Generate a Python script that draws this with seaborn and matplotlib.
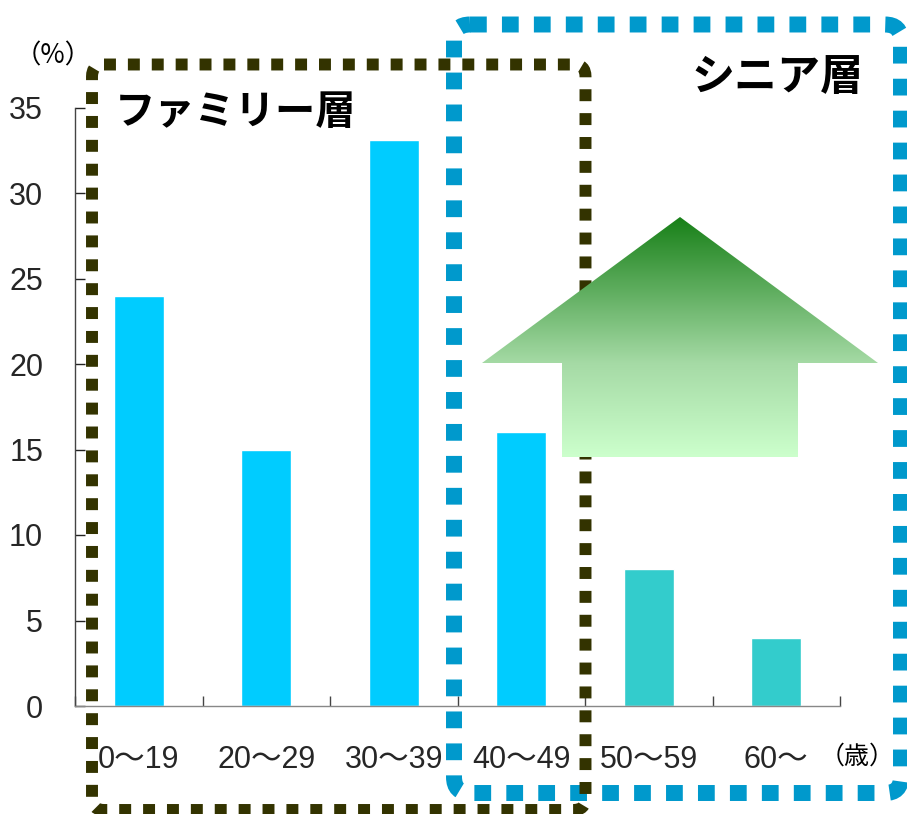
import numpy as np
import pandas as pd
import matplotlib
matplotlib.use("Agg")
import matplotlib.pyplot as plt
from matplotlib.patches import FancyBboxPatch, Polygon
import seaborn as sns

# Age-band distribution (%)
age_groups = ["0～19", "20～29", "30～39", "40～49", "50～59", "60～"]
shares = [24.0, 15.0, 33.1, 16.0, 8.0, 4.0]
bar_colors = ["#00CCFF", "#00CCFF", "#00CCFF", "#00CCFF", "#33CCCC", "#33CCCC"]
y_ticks = [0, 5, 10, 15, 20, 25, 30, 35]

sns.set_theme(style="white")
plt.rcParams["font.family"] = ["Liberation Sans", "Noto Sans CJK JP", "DejaVu Sans"]

W, H = 907, 814
fig = plt.figure(figsize=(W / 100, H / 100), dpi=100)
ax = fig.add_axes([75 / W, 1 - 706 / H, (840 - 75) / W, (706 - 107.5) / H])

df = pd.DataFrame({"age": age_groups, "share": shares})
sns.barplot(data=df, x="age", y="share", hue="age", palette=bar_colors,
            width=0.39, legend=False, ax=ax, saturation=1)

ax.set_ylim(0, 35)
ax.set_xlim(-0.5, len(age_groups) - 0.5)
ax.set_xlabel("")
ax.set_ylabel("")
ax.set_yticks(y_ticks)
ax.set_yticklabels([str(t) for t in y_ticks], fontsize=22)
ax.set_xticks(range(len(age_groups)))
ax.set_xticklabels(age_groups, fontsize=22)
ax.set_xticks(np.arange(-0.5, len(age_groups), 1.0), minor=True)
ax.tick_params(axis="y", direction="in", length=7, width=1, color="#222222",
               pad=23, left=True)
ax.tick_params(axis="x", which="major", length=0, pad=28)
ax.tick_params(axis="x", which="minor", direction="in", length=7, width=1,
               color="#444444", bottom=True)
for side in ["top", "right"]:
    ax.spines[side].set_visible(False)
ax.spines["left"].set_color("#444444")
ax.spines["bottom"].set_color("#888888")
ax.spines["left"].set_linewidth(1)
ax.spines["bottom"].set_linewidth(1)
ax.set_facecolor("none")

# Overlay in pixel coordinates for the grouping frames, arrow and captions
ov = fig.add_axes([0, 0, 1, 1], zorder=5)
ov.set_facecolor("none")
ov.axis("off")

blue_box = FancyBboxPatch((454, 24.5), 901 - 454, 793 - 24.5,
                          boxstyle="round,pad=0,rounding_size=16",
                          fill=False, edgecolor="#0099CC", linewidth=11.5,
                          linestyle=(0, (1.05, 0.95)), zorder=1)
ov.add_patch(blue_box)
olive_box = FancyBboxPatch((92, 64.5), 585.5 - 92, 810 - 64.5,
                           boxstyle="round,pad=0,rounding_size=12",
                           fill=False, edgecolor="#333300", linewidth=8.6,
                           linestyle=(0, (1.0, 1.0)), zorder=2)
ov.add_patch(olive_box)

# Upward arrow with vertical green gradient
arrow_pts = [(680, 217), (878, 363), (798, 363), (798, 457),
             (562, 457), (562, 363), (482, 363)]
arrow = Polygon(arrow_pts, closed=True, facecolor="none", edgecolor="none")
ov.add_patch(arrow)
stop_pos = [217, 363, 457]
stop_rgb = np.array([[24, 128, 24], [165, 218, 165], [204, 255, 204]]) / 255
rows = np.linspace(217, 457, 256)
grad = np.stack([np.interp(rows, stop_pos, stop_rgb[:, k]) for k in range(3)],
                axis=-1)[:, None, :]
img = ov.imshow(grad, extent=[482, 878, 457, 217], origin="upper",
                aspect="auto", zorder=3, interpolation="bilinear")
img.set_clip_path(arrow)

ov.text(115, 112, "ファミリー層", fontsize=29, fontweight="bold",
        family=["Noto Sans CJK JP"], ha="left", va="center", color="black",
        zorder=6)
ov.text(863, 77, "シニア層", fontsize=31, fontweight="bold",
        family=["Noto Sans CJK JP"], ha="right", va="center", color="black",
        zorder=6)
ov.text(53, 56, "（%）", fontsize=19, family=["Noto Sans CJK JP"],
        ha="center", va="center", color="black")
ov.text(857, 757, "（歳）", fontsize=18, family=["Noto Sans CJK JP"],
        ha="center", va="center", color="black")

ov.set_xlim(0, W)
ov.set_ylim(H, 0)

fig.savefig("out.png", dpi=100)
